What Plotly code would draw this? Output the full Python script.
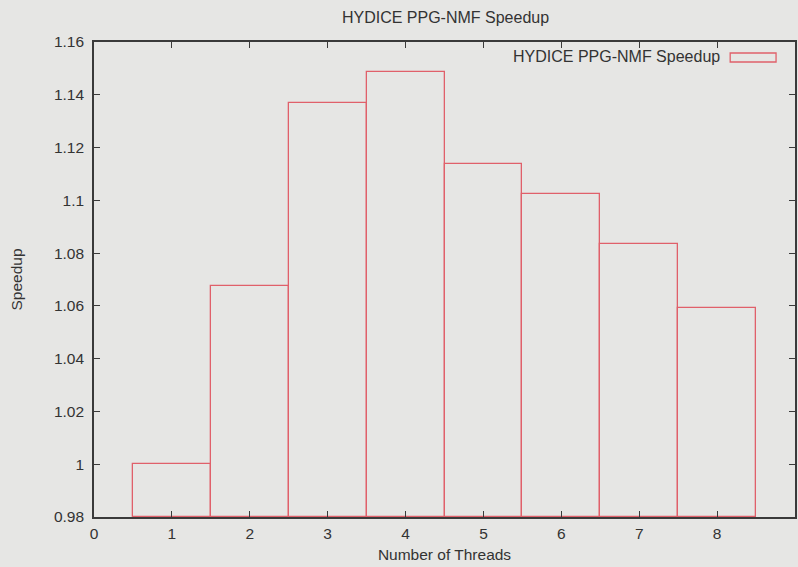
import plotly.graph_objects as go

# Measured speedup per thread count
threads = [1, 2, 3, 4, 5, 6, 7, 8]
speedup = [1.0, 1.0677, 1.1368, 1.1485, 1.1137, 1.1024, 1.0835, 1.0592]

series_name = "HYDICE PPG-NMF Speedup"
x_ticks = [0, 1, 2, 3, 4, 5, 6, 7, 8, 9]
y_ticks = [0.98, 1.0, 1.02, 1.04, 1.06, 1.08, 1.10, 1.12, 1.14, 1.16]
y_ticktext = ["0.98", "1", "1.02", "1.04", "1.06", "1.08", "1.1", "1.12", "1.14", "1.16"]

W, H = 798, 567
ML, MR, MT, MB = 94, 1, 42, 50
BG = "#e6e6e4"
RED = "#e0606a"
INK = "#333333"
FONT = "Liberation Sans, Arial, sans-serif"

fig = go.Figure()
fig.add_trace(go.Bar(
    x=threads,
    y=[v - 0.98 for v in speedup],
    base=0.98,
    width=1.0,
    marker=dict(color="rgba(0,0,0,0)", line=dict(color=RED, width=1.3)),
    name=series_name,
    showlegend=False,
    hoverinfo="x+y",
))

axis_common = dict(
    showgrid=False,
    zeroline=False,
    showline=True,
    linecolor="#3a3a3a",
    linewidth=1.6,
    mirror="allticks",
    ticks="inside",
    ticklen=6,
    tickwidth=1.4,
    tickcolor="#3a3a3a",
    tickfont=dict(family=FONT, size=15.5, color=INK),
    layer="above traces",
)

fig.update_xaxes(
    range=[0, 9],
    tickmode="array",
    tickvals=x_ticks,
    ticklabelstandoff=2,
    title=dict(text="Number of Threads", font=dict(family=FONT, size=15.5, color=INK), standoff=8),
    **axis_common,
)
fig.update_yaxes(
    range=[0.98, 1.16],
    tickmode="array",
    tickvals=y_ticks,
    ticktext=y_ticktext,
    ticklabelstandoff=5,
    title=dict(text="Speedup", font=dict(family=FONT, size=15.5, color=INK), standoff=28),
    **axis_common,
)

# Legend entry: label on the left, outlined sample box on the right
pw = W - ML - MR
ph = H - MT - MB
def px_x(p):
    return (p - ML) / pw
def px_y(p):
    return 1 - (p - MT) / ph

fig.add_annotation(
    xref="paper", yref="paper",
    x=px_x(724), y=px_y(57),
    xanchor="right", yanchor="middle",
    text=series_name, showarrow=False,
    font=dict(family=FONT, size=16, color=INK),
)
fig.add_shape(
    type="rect", xref="paper", yref="paper",
    x0=px_x(732), x1=px_x(778), y0=px_y(62), y1=px_y(53),
    line=dict(color=RED, width=1.3), fillcolor="rgba(0,0,0,0)",
)

fig.update_layout(
    width=W, height=H,
    margin=dict(l=ML, r=MR, t=MT, b=MB),
    paper_bgcolor=BG,
    plot_bgcolor=BG,
    title=dict(
        text=series_name,
        x=(ML + pw / 2) / W, xanchor="center",
        y=1 - 17 / H, yanchor="middle", yref="container",
        font=dict(family=FONT, size=16, color=INK),
    ),
    bargap=0,
)

fig.write_html("out.html")
